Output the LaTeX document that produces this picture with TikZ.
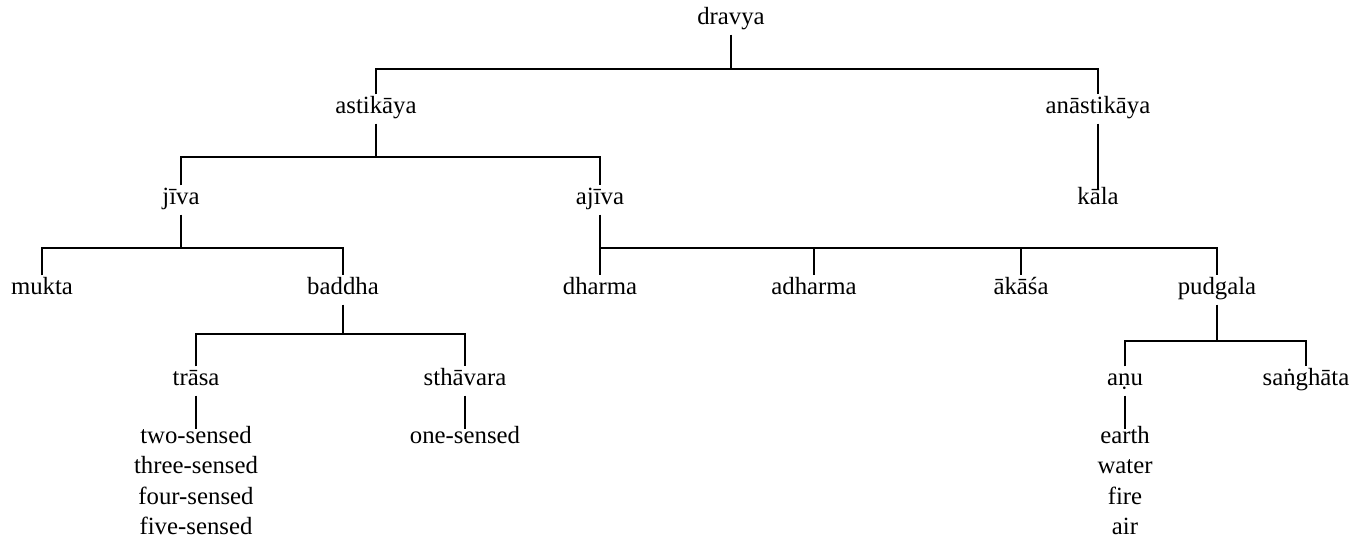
\documentclass[tikz,border=0pt]{standalone}
\usepackage{fontspec}
\setmainfont{Liberation Serif}

\begin{document}
\begin{tikzpicture}[x=0.02cm,y=-0.02cm,font=\fontsize{14.1}{16}\selectfont,
  term/.style={inner xsep=0pt,inner ysep=0.11cm,text height=0.75em,text depth=0.25em},
  item/.style={term,inner ysep=0.01cm},
  tree/.style={line width=0.85pt}]
\useasboundingbox (0,0) rectangle (1369,545);

% Terms, one row per level of the tree.
\node[term] (dravya) at (731,20) {dravya};
\node[term] (astika) at (376,109) {astikāya};
\node[term] (anastika) at (1098,109) {anāstikāya};
\node[term] (jiva) at (181,200) {jīva};
\node[term] (ajiva) at (600,200) {ajīva};
\node[item] (kala) at (1098,200) {kāla};
\node[term] (mukta) at (42,290) {mukta};
\node[term] (baddha) at (343,290) {baddha};
\node[term] (dharma) at (600,290) {dharma};
\node[term] (adharma) at (814,290) {adharma};
\node[term] (akasa) at (1021,290) {ākāśa};
\node[term] (pudgala) at (1217,290) {pudgala};
\node[term] (trasa) at (196,381) {trāsa};
\node[term] (sthavara) at (465,381) {sthāvara};
\node[term] (anu) at (1125,381) {aṇu};
\node[term] (sanghata) at (1306,381) {saṅghāta};

% Lists hanging below trasa, sthavara and anu.
\node[item] (two) at (196,439) {two-sensed};
\node[item] (three) at (196,469) {three-sensed};
\node[item] (four) at (196,500) {four-sensed};
\node[item] (five) at (196,530) {five-sensed};
\node[item] (one) at (465,439) {one-sensed};
\node[item] (earth) at (1125,439) {earth};
\node[item] (water) at (1125,469) {water};
\node[item] (fire) at (1125,500) {fire};
\node[item] (air) at (1125,530) {air};

% Junctions on the horizontal bars.
\coordinate (b0) at (731,69);
\coordinate (b1) at (376,157);
\coordinate (b2) at (181,248);
\coordinate (b3) at (600,248);
\coordinate (b4) at (343,334);
\coordinate (b5) at (1217,341);

\draw[tree] (dravya) -- (b0);
\draw[tree] (astika.north) |- (b0) -| (anastika.north);
\draw[tree] (astika) -- (b1);
\draw[tree] (jiva.north) |- (b1) -| (ajiva.north);
\draw[tree] (anastika) -- (kala);
\draw[tree] (jiva) -- (b2);
\draw[tree] (mukta.north) |- (b2) -| (baddha.north);
\draw[tree] (ajiva) -- (dharma);
\foreach \n in {adharma,akasa,pudgala}{\draw[tree] (b3) -| (\n.north);}
\draw[tree] (baddha) -- (b4);
\draw[tree] (trasa.north) |- (b4) -| (sthavara.north);
\draw[tree] (pudgala) -- (b5);
\draw[tree] (anu.north) |- (b5) -| (sanghata.north);
\draw[tree] (trasa) -- (two);
\draw[tree] (sthavara) -- (one);
\draw[tree] (anu) -- (earth);
\end{tikzpicture}
\end{document}
